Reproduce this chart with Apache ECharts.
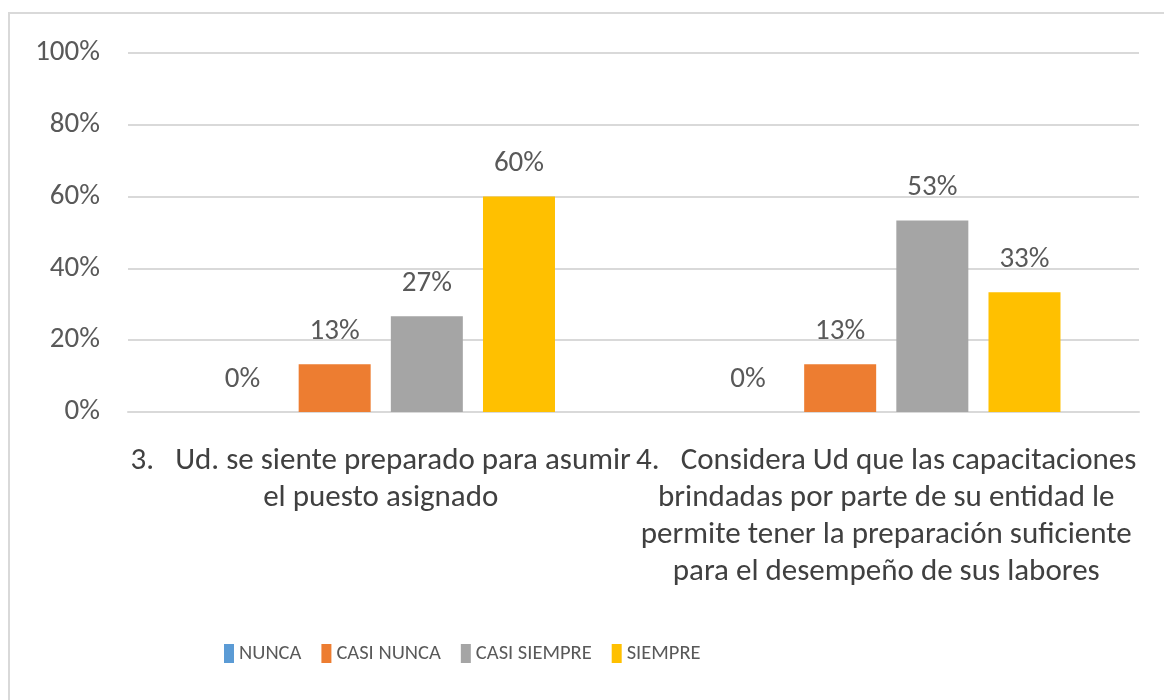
<!DOCTYPE html>
<html>
<head>
<meta charset="utf-8">
<style>
  html, body { margin: 0; padding: 0; background: #fff; }
  #chart { width: 1164px; height: 700px; }
</style>
<script src="https://cdn.jsdelivr.net/npm/echarts@6/dist/echarts.min.js"></script>
</head>
<body>
<div id="chart"></div>
<script>
// categorias (preguntas)
const categories = [
  '3.   Ud. se siente preparado para asumir\nel puesto asignado',
  '4.   Considera Ud que las capacitaciones\nbrindadas por parte de su entidad le\npermite tener la preparación suficiente\npara el desempeño de sus labores'
]
const seriesNames = ['NUNCA', 'CASI NUNCA', 'CASI SIEMPRE', 'SIEMPRE']
const nunca = [0, 0]
const casiNunca = [13.33, 13.33]
const casiSiempre = [26.67, 53.33]
const siempre = [60, 33.33]
const colors = ['#5b9bd5', '#ed7d31', '#a5a5a5', '#ffc000']

const myChart = echarts.init(document.getElementById('chart'))
const font = 'Carlito, "Open Sans", sans-serif'

const makeSeries = (name, data, i) => ({
  name,
  type: 'bar',
  data,
  barWidth: 72,
  barGap: '28%',
  barCategoryGap: '31%',
  itemStyle: { color: colors[i] },
  label: {
    show: true,
    position: 'top',
    distance: 18,
    color: '#595959',
    fontSize: 29,
    fontFamily: font,
    formatter: (p) => Math.round(p.value) + '%'
  }
})

const option = {
  animation: false,
  textStyle: { fontFamily: font },
  // marco del grafico
  graphic: [
    {
      type: 'rect',
      shape: { x: 9, y: 13, width: 1170, height: 700 },
      style: { fill: 'none', stroke: '#d9d9d9', lineWidth: 2 }
    }
  ],
  grid: {
    left: 128,
    right: 25,
    top: 53,
    bottom: 288
  },
  legend: {
    bottom: 31,
    left: 219,
    itemWidth: 10,
    itemHeight: 19,
    itemGap: 20,
    icon: 'rect',
    textStyle: { color: '#595959', fontSize: 20.5, fontFamily: font },
    data: seriesNames
  },
  xAxis: {
    type: 'category',
    data: categories,
    axisTick: { show: false },
    axisLine: { lineStyle: { color: '#d9d9d9', width: 2 } },
    axisLabel: {
      interval: 0,
      margin: 31,
      color: '#404040',
      fontSize: 31,
      lineHeight: 37,
      fontFamily: font,
      align: 'center'
    }
  },
  yAxis: {
    type: 'value',
    min: 0,
    max: 100,
    interval: 20,
    axisLine: { show: false },
    axisTick: { show: false },
    splitLine: { lineStyle: { color: '#d9d9d9', width: 2 } },
    axisLabel: {
      margin: 28,
      color: '#595959',
      fontSize: 29,
      fontFamily: font,
      formatter: '{value}%'
    }
  },
  series: [
    makeSeries(seriesNames[0], nunca, 0),
    makeSeries(seriesNames[1], casiNunca, 1),
    makeSeries(seriesNames[2], casiSiempre, 2),
    makeSeries(seriesNames[3], siempre, 3)
  ]
}

myChart.setOption(option)
window.addEventListener('resize', () => {
  myChart.resize()
})
</script>
</body>
</html>
